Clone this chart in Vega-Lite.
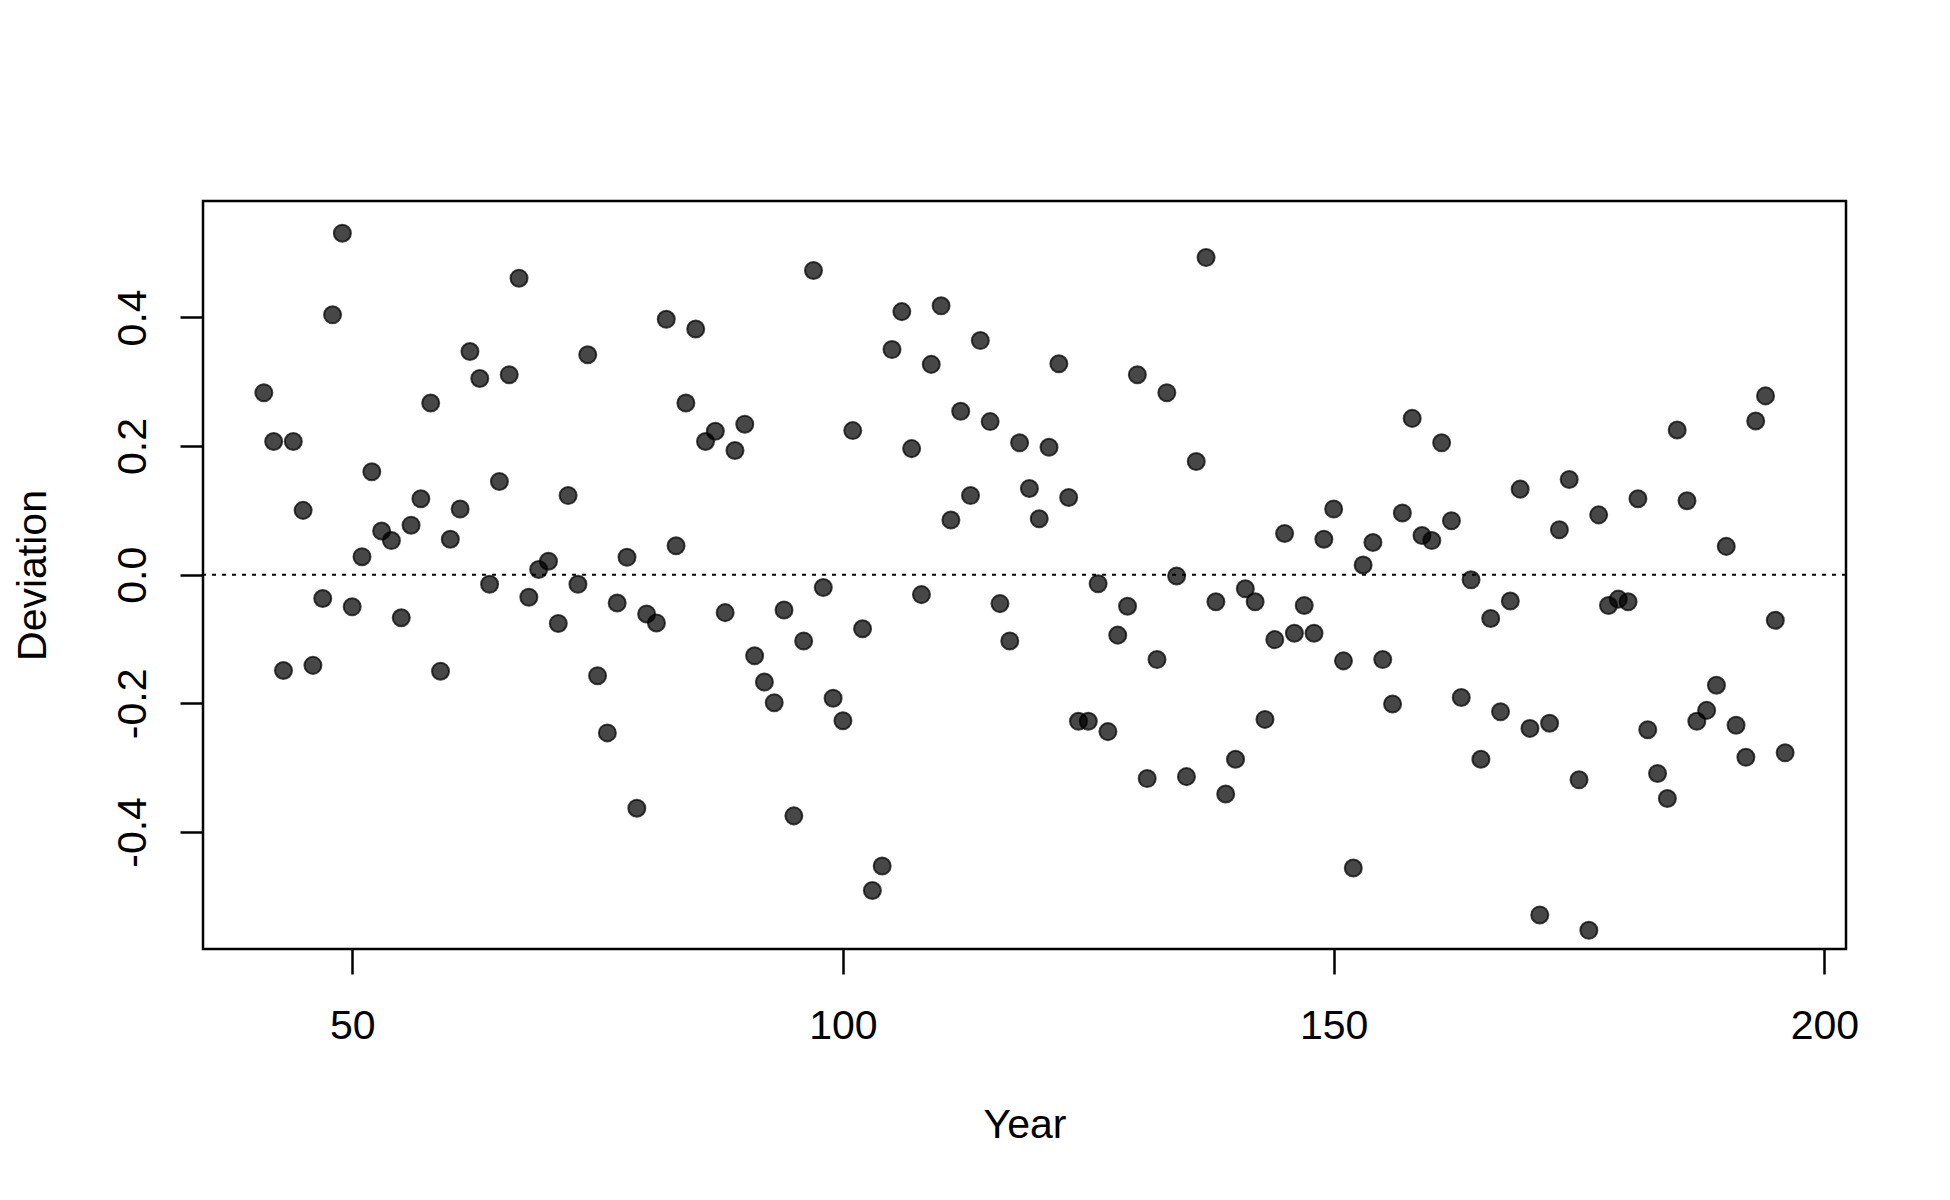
{
  "$schema": "https://vega.github.io/schema/vega-lite/v6.json",
  "width": 1643,
  "height": 748,
  "autosize": "none",
  "padding": {"left": 203, "top": 201, "right": 104, "bottom": 251},
  "background": "white",
  "config": {
    "view": {"stroke": "black", "strokeWidth": 2.5},
    "font": "Liberation Sans"
  },
  "layer": [
    {
      "data": {"values": [
        {"Year": 41, "Deviation": 0.283}, {"Year": 42, "Deviation": 0.207}, {"Year": 43, "Deviation": -0.149},
        {"Year": 44, "Deviation": 0.207}, {"Year": 45, "Deviation": 0.100}, {"Year": 46, "Deviation": -0.141},
        {"Year": 47, "Deviation": -0.037}, {"Year": 48, "Deviation": 0.404}, {"Year": 49, "Deviation": 0.531},
        {"Year": 50, "Deviation": -0.050}, {"Year": 51, "Deviation": 0.028}, {"Year": 52, "Deviation": 0.160},
        {"Year": 53, "Deviation": 0.068}, {"Year": 54, "Deviation": 0.053}, {"Year": 55, "Deviation": -0.067},
        {"Year": 56, "Deviation": 0.077}, {"Year": 57, "Deviation": 0.118}, {"Year": 58, "Deviation": 0.267},
        {"Year": 59, "Deviation": -0.150}, {"Year": 60, "Deviation": 0.055}, {"Year": 61, "Deviation": 0.102},
        {"Year": 62, "Deviation": 0.347}, {"Year": 63, "Deviation": 0.305}, {"Year": 64, "Deviation": -0.015},
        {"Year": 65, "Deviation": 0.145}, {"Year": 66, "Deviation": 0.311}, {"Year": 67, "Deviation": 0.461},
        {"Year": 68, "Deviation": -0.035}, {"Year": 69, "Deviation": 0.008}, {"Year": 70, "Deviation": 0.021},
        {"Year": 71, "Deviation": -0.076}, {"Year": 72, "Deviation": 0.123}, {"Year": 73, "Deviation": -0.015},
        {"Year": 74, "Deviation": 0.342}, {"Year": 75, "Deviation": -0.157}, {"Year": 76, "Deviation": -0.246},
        {"Year": 77, "Deviation": -0.044}, {"Year": 78, "Deviation": 0.027}, {"Year": 79, "Deviation": -0.363},
        {"Year": 80, "Deviation": -0.061}, {"Year": 81, "Deviation": -0.075}, {"Year": 82, "Deviation": 0.397},
        {"Year": 83, "Deviation": 0.045}, {"Year": 84, "Deviation": 0.267}, {"Year": 85, "Deviation": 0.382},
        {"Year": 86, "Deviation": 0.207}, {"Year": 87, "Deviation": 0.223}, {"Year": 88, "Deviation": -0.059},
        {"Year": 89, "Deviation": 0.193}, {"Year": 90, "Deviation": 0.234}, {"Year": 91, "Deviation": -0.126},
        {"Year": 92, "Deviation": -0.167}, {"Year": 93, "Deviation": -0.199}, {"Year": 94, "Deviation": -0.055},
        {"Year": 95, "Deviation": -0.375}, {"Year": 96, "Deviation": -0.103}, {"Year": 97, "Deviation": 0.473},
        {"Year": 98, "Deviation": -0.020}, {"Year": 99, "Deviation": -0.192}, {"Year": 100, "Deviation": -0.227},
        {"Year": 101, "Deviation": 0.224}, {"Year": 102, "Deviation": -0.084}, {"Year": 103, "Deviation": -0.491},
        {"Year": 104, "Deviation": -0.453}, {"Year": 105, "Deviation": 0.350}, {"Year": 106, "Deviation": 0.409},
        {"Year": 107, "Deviation": 0.196}, {"Year": 108, "Deviation": -0.031}, {"Year": 109, "Deviation": 0.327},
        {"Year": 110, "Deviation": 0.418}, {"Year": 111, "Deviation": 0.085}, {"Year": 112, "Deviation": 0.254},
        {"Year": 113, "Deviation": 0.123}, {"Year": 114, "Deviation": 0.364}, {"Year": 115, "Deviation": 0.238},
        {"Year": 116, "Deviation": -0.045}, {"Year": 117, "Deviation": -0.103}, {"Year": 118, "Deviation": 0.205},
        {"Year": 119, "Deviation": 0.134}, {"Year": 120, "Deviation": 0.087}, {"Year": 121, "Deviation": 0.198},
        {"Year": 122, "Deviation": 0.328}, {"Year": 123, "Deviation": 0.120}, {"Year": 124, "Deviation": -0.228},
        {"Year": 125, "Deviation": -0.228}, {"Year": 126, "Deviation": -0.014}, {"Year": 127, "Deviation": -0.244},
        {"Year": 128, "Deviation": -0.094}, {"Year": 129, "Deviation": -0.049}, {"Year": 130, "Deviation": 0.311},
        {"Year": 131, "Deviation": -0.317}, {"Year": 132, "Deviation": -0.132}, {"Year": 133, "Deviation": 0.283},
        {"Year": 134, "Deviation": -0.002}, {"Year": 135, "Deviation": -0.314}, {"Year": 136, "Deviation": 0.176},
        {"Year": 137, "Deviation": 0.493}, {"Year": 138, "Deviation": -0.042}, {"Year": 139, "Deviation": -0.341},
        {"Year": 140, "Deviation": -0.287}, {"Year": 141, "Deviation": -0.022}, {"Year": 142, "Deviation": -0.042},
        {"Year": 143, "Deviation": -0.225}, {"Year": 144, "Deviation": -0.101}, {"Year": 145, "Deviation": 0.064},
        {"Year": 146, "Deviation": -0.091}, {"Year": 147, "Deviation": -0.048}, {"Year": 148, "Deviation": -0.091},
        {"Year": 149, "Deviation": 0.055}, {"Year": 150, "Deviation": 0.102}, {"Year": 151, "Deviation": -0.134},
        {"Year": 152, "Deviation": -0.456}, {"Year": 153, "Deviation": 0.015}, {"Year": 154, "Deviation": 0.050},
        {"Year": 155, "Deviation": -0.132}, {"Year": 156, "Deviation": -0.201}, {"Year": 157, "Deviation": 0.096},
        {"Year": 158, "Deviation": 0.243}, {"Year": 159, "Deviation": 0.061}, {"Year": 160, "Deviation": 0.053},
        {"Year": 161, "Deviation": 0.205}, {"Year": 162, "Deviation": 0.084}, {"Year": 163, "Deviation": -0.191},
        {"Year": 164, "Deviation": -0.008}, {"Year": 165, "Deviation": -0.287}, {"Year": 166, "Deviation": -0.068},
        {"Year": 167, "Deviation": -0.213}, {"Year": 168, "Deviation": -0.041}, {"Year": 169, "Deviation": 0.133},
        {"Year": 170, "Deviation": -0.239}, {"Year": 171, "Deviation": -0.529}, {"Year": 172, "Deviation": -0.231},
        {"Year": 173, "Deviation": 0.070}, {"Year": 174, "Deviation": 0.148}, {"Year": 175, "Deviation": -0.319},
        {"Year": 176, "Deviation": -0.553}, {"Year": 177, "Deviation": 0.093}, {"Year": 178, "Deviation": -0.048},
        {"Year": 179, "Deviation": -0.038}, {"Year": 180, "Deviation": -0.042}, {"Year": 181, "Deviation": 0.118},
        {"Year": 182, "Deviation": -0.241}, {"Year": 183, "Deviation": -0.309}, {"Year": 184, "Deviation": -0.348},
        {"Year": 185, "Deviation": 0.225}, {"Year": 186, "Deviation": 0.115}, {"Year": 187, "Deviation": -0.228},
        {"Year": 188, "Deviation": -0.211}, {"Year": 189, "Deviation": -0.172}, {"Year": 190, "Deviation": 0.044},
        {"Year": 191, "Deviation": -0.234}, {"Year": 192, "Deviation": -0.284}, {"Year": 193, "Deviation": 0.239},
        {"Year": 194, "Deviation": 0.278}, {"Year": 195, "Deviation": -0.071}, {"Year": 196, "Deviation": -0.277}
      ]},
      "mark": {
        "type": "point",
        "shape": "circle",
        "filled": true,
        "size": 290,
        "fill": "#000000",
        "fillOpacity": 0.72,
        "stroke": "#000000",
        "strokeOpacity": 0.72,
        "strokeWidth": 2
      },
      "encoding": {
        "x": {
          "field": "Year",
          "type": "quantitative",
          "scale": {"domain": [34.8, 202.2], "nice": false, "zero": false},
          "axis": {
            "title": "Year",
            "values": [50, 100, 150, 200],
            "format": "d",
            "grid": false,
            "domain": false,
            "tickSize": 25,
            "tickWidth": 2.5,
            "tickColor": "black",
            "labelFont": "Liberation Sans",
            "labelFontSize": 41,
            "labelColor": "black",
            "labelBaseline": "alphabetic",
            "labelPadding": 64,
            "labelFlush": false,
            "labelOverlap": false,
            "titleFont": "Liberation Sans",
            "titleFontSize": 41,
            "titleFontWeight": "normal",
            "titleColor": "black",
            "titleBaseline": "alphabetic",
            "titleY": 188
          }
        },
        "y": {
          "field": "Deviation",
          "type": "quantitative",
          "scale": {"domain": [-0.582, 0.581], "nice": false, "zero": false},
          "axis": {
            "title": "Deviation",
            "values": [-0.4, -0.2, 0, 0.2, 0.4],
            "labelExpr": "datum.value < 0 ? '-' + format(-datum.value, '.1f') : format(datum.value, '.1f')",
            "grid": false,
            "domain": false,
            "tickSize": 23,
            "tickWidth": 2.5,
            "tickColor": "black",
            "labelFont": "Liberation Sans",
            "labelFontSize": 41,
            "labelColor": "black",
            "labelAngle": -90,
            "labelAlign": "center",
            "labelBaseline": "alphabetic",
            "labelPadding": 35,
            "labelFlush": false,
            "labelOverlap": false,
            "titleFont": "Liberation Sans",
            "titleFontSize": 41,
            "titleFontWeight": "normal",
            "titleColor": "black",
            "titleAngle": -90,
            "titleAlign": "center",
            "titleBaseline": "alphabetic",
            "titleX": -158,
            "titleY": 374
          }
        }
      }
    },
    {
      "data": {"values": [{"ref": 0}]},
      "mark": {"type": "rule", "color": "black", "strokeWidth": 2, "strokeDash": [4, 6]},
      "encoding": {
        "y": {"field": "ref", "type": "quantitative"}
      }
    }
  ]
}
